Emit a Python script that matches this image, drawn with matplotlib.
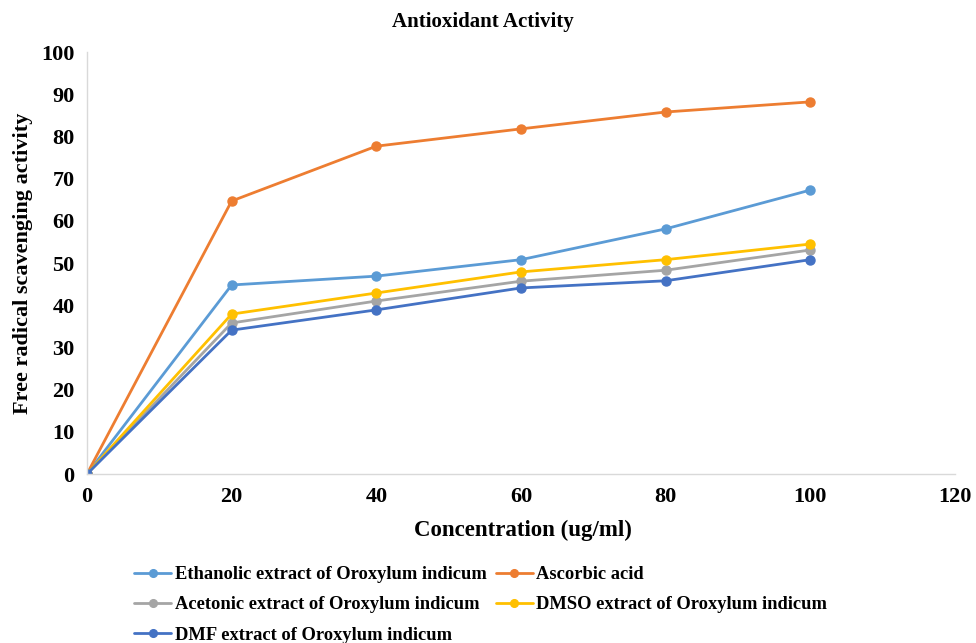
import matplotlib.pyplot as plt

# concentration steps (ug/ml)
conc = [0, 20, 40, 60, 80, 100]

# % free radical scavenging for each extract
ethanolic = [0, 44.8, 46.9, 50.8, 58.1, 67.3]
ascorbic = [0, 64.7, 77.7, 81.8, 85.8, 88.2]
acetonic = [0, 35.8, 41.0, 45.7, 48.3, 53.1]
dmso = [0, 37.9, 42.9, 47.9, 50.8, 54.5]
dmf = [0, 34.1, 38.9, 44.1, 45.8, 50.8]

labels = ["Ethanolic extract of Oroxylum indicum", "Ascorbic acid",
          "Acetonic extract of Oroxylum indicum", "DMSO extract of Oroxylum indicum",
          "DMF extract of Oroxylum indicum"]
colors = ["#5B9BD5", "#ED7D31", "#A5A5A5", "#FFC000", "#4472C4"]

plt.rcParams['font.family'] = ['Liberation Serif', 'DejaVu Serif']
plt.rcParams['font.weight'] = 'bold'

fig = plt.figure(figsize=(9.76, 6.43), dpi=100)
ax = fig.add_axes([0.0891, 0.2628, 0.8894, 0.6562])

lines = []
for ys, lab, col in zip([ethanolic, ascorbic, acetonic, dmso, dmf], labels, colors):
    ln, = ax.plot(conc, ys, color=col, lw=2.0, marker='o', ms=6.5, label=lab,
                  solid_capstyle='round')
    lines.append(ln)

ax.set_xlim(0, 120)
ax.set_ylim(0, 100)
ax.set_xticks(range(0, 121, 20))
ax.set_yticks(range(0, 101, 10))
ax.tick_params(length=0, labelsize=16, pad=9)
for t in ax.get_xticklabels() + ax.get_yticklabels():
    t.set_fontweight('bold')
for s in ['top', 'right']:
    ax.spines[s].set_visible(False)
for s in ['left', 'bottom']:
    ax.spines[s].set_color('#D9D9D9')
    ax.spines[s].set_linewidth(1.0)

fig.text(0.4945, 0.966, "Antioxidant Activity", fontsize=15, fontweight='bold',
         ha='center', va='center')
ax.set_xlabel("Concentration (ug/ml)", fontsize=16.5, fontweight='bold')
ax.xaxis.set_label_coords(0.502, -0.108)
ax.set_ylabel("Free radical scavenging activity", fontsize=16, fontweight='bold')
ax.yaxis.set_label_coords(-0.062, 0.5)

# legend: column-first ordering puts three entries left, two right
order = [0, 2, 4, 1, 3]
fig.legend([lines[i] for i in order], [labels[i] for i in order],
           ncol=2, loc='upper left', bbox_to_anchor=(0.128, 0.134),
           frameon=False, fontsize=13.3, handlelength=2.0, handletextpad=0.2,
           columnspacing=0.5, labelspacing=0.72, borderpad=0, markerscale=0.85)

fig.savefig("out.png", dpi=100)
